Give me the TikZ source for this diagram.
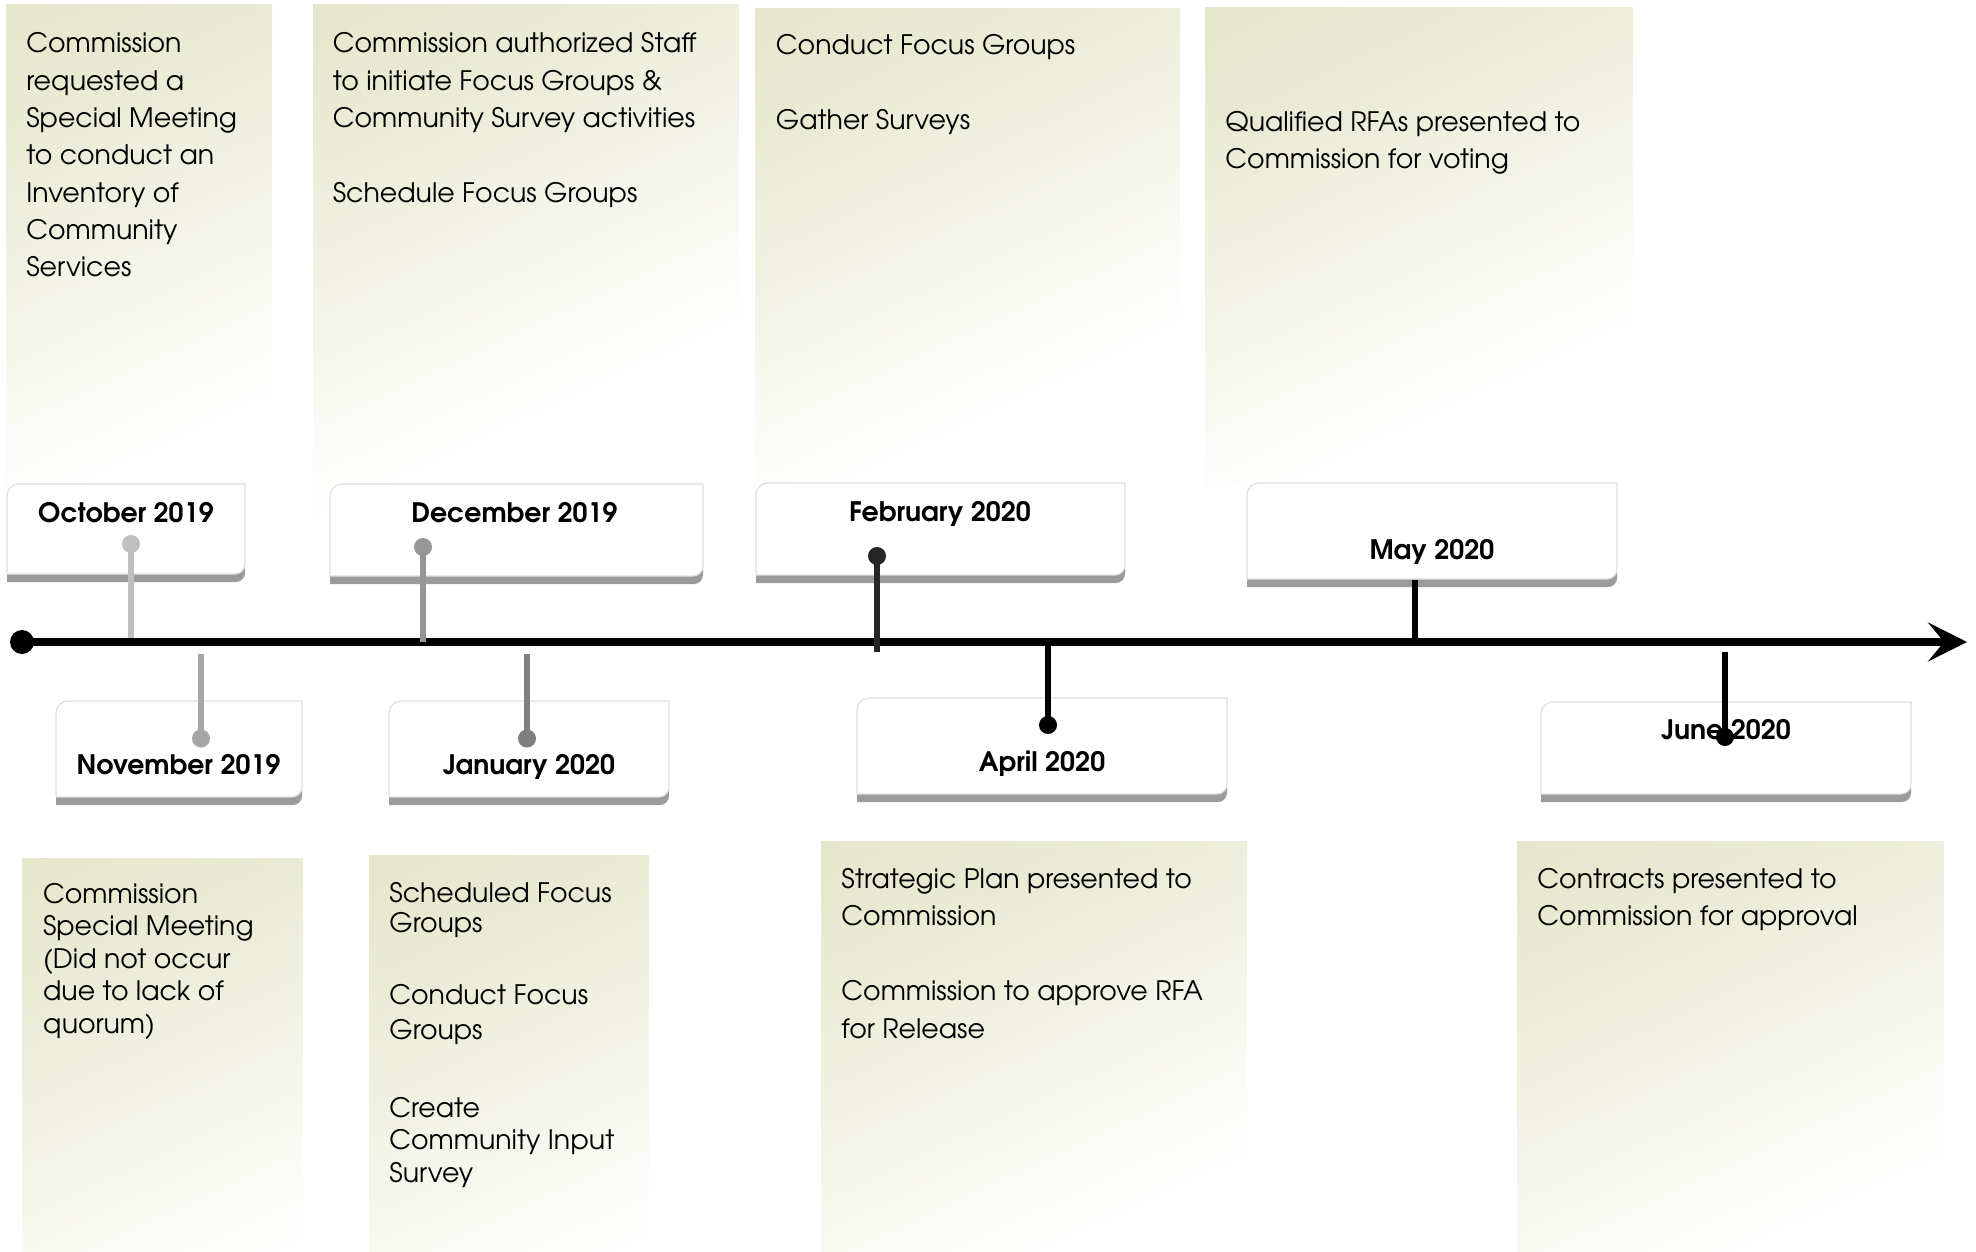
\documentclass[tikz,border=0pt]{standalone}
\usepackage{fontspec}
\setmainfont{TeX Gyre Adventor}
\usetikzlibrary{arrows.meta}
\definecolor{olv}{RGB}{229,230,202}
\definecolor{band}{RGB}{155,155,155}
\definecolor{edgec}{RGB}{222,222,222}
\definecolor{cA}{RGB}{191,191,191}
\definecolor{cB}{RGB}{166,166,166}
\definecolor{cC}{RGB}{150,150,150}
\definecolor{cD}{RGB}{127,127,127}
\definecolor{cE}{RGB}{38,38,38}
% the path's bounding box covers 25bp..75bp of the shading
\pgfdeclareverticalshading{fadev}{100bp}{color(0bp)=(white); color(38.6bp)=(white); color(41.7bp)=(olv!14!white); color(45.8bp)=(olv!40!white); color(52bp)=(olv!74!white); color(58.3bp)=(olv); color(100bp)=(olv)}
\newcommand\tlbg[4]{%
  \begin{scope}
    \clip (#1,#2) rectangle (#3,#4);
    \shade[shading=fadev, transform canvas={rotate around={25:(#1,#2)}}] (#1-700,#2-400) rectangle (#1+1300,#2+800);
  \end{scope}}
\newcommand\tldatebox[4]{%
  \fill[band] (#1,#4-14) -- (#3,#4-14) -- (#3,#4-9) arc[start angle=0,end angle=90,radius=9] -- (#1,#4) -- cycle;
  \filldraw[fill=white, draw=edgec, line width=0.6pt] (#1,#4-8) -- (#1,#2+12) arc[start angle=180,end angle=270,radius=12] -- (#3,#2) -- (#3,#4-18) arc[start angle=0,end angle=90,radius=10] -- cycle;
}
\newcommand\tllines[1]{\begin{tabular}[t]{@{}l@{}}#1\end{tabular}}
\tikzset{
  body/.style={anchor=base west, inner sep=0, font=\fontsize{13.4}{18.65}\selectfont},
  datelbl/.style={anchor=base, inner sep=0, font=\bfseries\fontsize{13.4}{16}\selectfont},
  dotc/.style={circle, inner sep=0, minimum size=9pt, fill=#1},
  stem/.style={line width=3.2pt, draw=#1},
}
\begin{document}
\begin{tikzpicture}[x=0.5pt,y=-0.5pt]
\useasboundingbox (0,0) rectangle (1976,1252);
% background text boxes
\tlbg{6}{5}{272}{545}
\tlbg{313}{5}{739}{543}
\tlbg{755}{9}{1180}{485}
\tlbg{1205}{8}{1633}{485}
\tlbg{22}{858}{303}{1252}
\tlbg{369}{855}{649}{1252}
\tlbg{821}{841}{1247}{1252}
\tlbg{1517}{841}{1944}{1252}
% body texts
\node[body] (toct) at (26,53) {\tllines{Commission\\requested a\\Special Meeting\\to conduct an\\Inventory of\\Community\\Services}};
\node[body] (tdec) at (332.5,53) {\tllines{Commission authorized Staff\\to initiate Focus Groups \&\\Community Survey activities\\[18.65pt]Schedule Focus Groups}};
\node[body] (tfeb) at (775.5,55) {\tllines{Conduct Focus Groups\\[18.65pt]Gather Surveys}};
\node[body] (tmay) at (1225,131.5) {\tllines{Qualified RFAs presented to\\Commission for voting}};
\node[body, font=\fontsize{13.4}{16.3}\selectfont] (tnov) at (42.7,903) {\tllines{Commission\\Special Meeting\\(Did not occur\\due to lack of\\quorum)}};
\node[body, font=\fontsize{13.4}{14}\selectfont] (tjan) at (389,902) {\tllines{Scheduled Focus\\[0.8pt]Groups\\[22pt]Conduct Focus\\[3pt]Groups\\[25pt]Create\\[1.5pt]Community Input\\[2.5pt]Survey}};
\node[body, font=\fontsize{13.4}{18.9}\selectfont] (tapr) at (841,888) {\tllines{Strategic Plan presented to\\Commission\\[18.65pt]Commission to approve RFA\\for Release}};
\node[body, font=\fontsize{13.4}{18.9}\selectfont] (tjun) at (1537,888) {\tllines{Contracts presented to\\Commission for approval}};
% date boxes
\tldatebox{7}{484}{245}{582}
\tldatebox{330}{484}{703}{584}
\tldatebox{756}{483}{1125}{583}
\tldatebox{1247}{483}{1617}{587}
\tldatebox{56}{701}{302}{805}
\tldatebox{389}{701}{669}{805}
\tldatebox{857}{698}{1227}{802}
\tldatebox{1541}{702}{1911}{802}
\node[datelbl] (loct) at (126,522.4) {October 2019};
\node[datelbl] (ldec) at (514.5,522.4) {December 2019};
\node[datelbl] (lfeb) at (940,521.7) {February 2020};
\node[datelbl] (lmay) at (1432,559) {May 2020};
\node[datelbl] (lnov) at (178.6,774) {November 2019};
\node[datelbl] (ljan) at (529,774) {January 2020};
\node[datelbl] (lapr) at (1042,771) {April 2020};
\node[datelbl] (ljun) at (1726,739) {June 2020};
% timeline
\node[circle, fill=black, inner sep=0, minimum size=12pt] (start) at (22,642) {};
\coordinate (tip) at (1967,642);
\draw[line width=4pt, -{Stealth[length=19.5pt, width=19.5pt, inset=8pt]}] (start.center) -- (tip);
% connectors
\node[dotc=cA] (doct) at (131,544) {};
\coordinate (aoct) at (131,638);
\draw[stem=cA] (doct.center) -- (aoct);
\coordinate (anov) at (201,654);
\node[dotc=cB] (dnov) at (201,738.5) {};
\draw[stem=cB] (anov) -- (dnov.center);
\node[dotc=cC] (ddec) at (423,547) {};
\coordinate (adec) at (423,642);
\draw[stem=cC] (ddec.center) -- (adec);
\coordinate (ajan) at (527,654);
\node[dotc=cD] (djan) at (527,738.5) {};
\draw[stem=cD] (ajan) -- (djan.center);
\node[dotc=cE] (dfeb) at (877,556) {};
\coordinate (afeb) at (877,652);
\draw[stem=cE] (dfeb.center) -- (afeb);
\coordinate (aapr) at (1048,642);
\node[dotc=black] (dapr) at (1048,725) {};
\draw[stem=black] (aapr) -- (dapr.center);
\coordinate (bmay) at (1415,580);
\coordinate (amay) at (1415,640);
\draw[stem=black] (bmay) -- (amay);
\coordinate (ajun) at (1725,652);
\node[dotc=black] (djun) at (1725,737) {};
\draw[stem=black] (ajun) -- (djun.center);
\end{tikzpicture}
\end{document}
